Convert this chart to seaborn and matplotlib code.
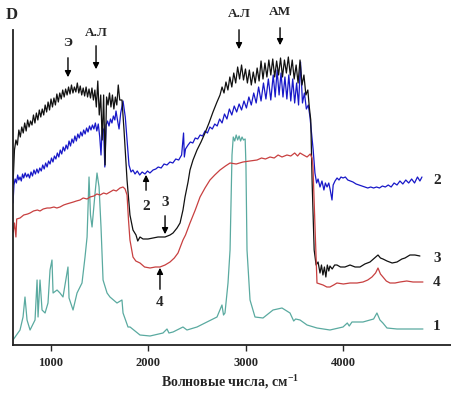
import pandas as pd
import seaborn as sns
import matplotlib.pyplot as plt

sns.set_style("ticks")
plt.rcParams['font.family'] = ['Liberation Serif', 'DejaVu Serif']
plt.rcParams['mathtext.fontset'] = 'custom'
plt.rcParams['mathtext.rm'] = 'Liberation Serif'
plt.rcParams['mathtext.bf'] = 'Liberation Serif:bold'

# spectra: (wavenumber cm-1, D in arbitrary units)
curve1 = [(610, 5), (682, 15), (713, 28), (733, 48), (754, 25), (785, 15), (836, 25), (857, 65),
          (867, 28), (887, 65), (908, 35), (939, 32), (969, 42), (990, 75), (1010, 85), (1021, 52),
          (1062, 55), (1092, 52), (1123, 48), (1174, 78), (1185, 47), (1226, 35), (1267, 52),
          (1318, 62), (1349, 88), (1370, 108), (1390, 168), (1405, 130), (1421, 118), (1452, 152),
          (1472, 172), (1493, 158), (1513, 118), (1534, 65), (1575, 52), (1605, 48), (1677, 42),
          (1728, 45), (1739, 32), (1790, 18), (1811, 18), (1913, 10), (2016, 9), (2149, 12),
          (2190, 16), (2210, 12), (2252, 13), (2354, 18), (2395, 15), (2498, 18), (2600, 23),
          (2703, 28), (2754, 40), (2770, 30), (2785, 32), (2816, 62), (2837, 95), (2857, 190),
          (2870, 208), (2885, 204), (2900, 210), (2915, 205), (2930, 209), (2945, 204), (2960, 208),
          (2975, 205), (2992, 206), (3000, 180), (3011, 95), (3042, 45), (3093, 28), (3175, 27),
          (3278, 35), (3370, 37), (3452, 32), (3490, 24), (3510, 26), (3555, 25), (3627, 20),
          (3729, 17), (3862, 15), (3996, 18), (4040, 22), (4060, 19), (4088, 23), (4201, 23),
          (4273, 25), (4310, 26), (4344, 32), (4375, 25), (4405, 22), (4447, 17), (4550, 16),
          (4714, 16), (4816, 16)]

curve2 = [(610, 142), (620, 160), (632, 166), (645, 162), (658, 170), (670, 165), (682, 168),
          (695, 164), (708, 171), (720, 167), (735, 172), (750, 168), (765, 171), (780, 167),
          (795, 173), (810, 169), (825, 175), (840, 171), (855, 176), (870, 172), (885, 177),
          (900, 174), (915, 180), (930, 176), (945, 182), (960, 178), (975, 184), (990, 181),
          (1005, 187), (1020, 183), (1035, 189), (1050, 186), (1065, 192), (1080, 188), (1095, 195),
          (1110, 191), (1125, 198), (1140, 194), (1155, 200), (1170, 196), (1185, 204), (1200, 199),
          (1215, 206), (1230, 202), (1245, 209), (1260, 204), (1275, 211), (1290, 207), (1305, 213),
          (1320, 209), (1335, 215), (1350, 211), (1365, 217), (1380, 213), (1395, 219), (1410, 215),
          (1425, 220), (1440, 216), (1455, 222), (1470, 214), (1485, 221), (1500, 208), (1513, 190),
          (1525, 218), (1540, 215), (1552, 178), (1565, 220), (1580, 224), (1595, 219), (1610, 226),
          (1625, 222), (1640, 229), (1655, 225), (1667, 234), (1680, 226), (1698, 216), (1715, 232),
          (1739, 244), (1750, 236), (1762, 228), (1780, 205), (1800, 180), (1821, 173), (1840, 175),
          (1862, 171), (1885, 174), (1910, 170), (1935, 173), (1964, 171), (1990, 174), (2015, 172),
          (2047, 175), (2075, 176), (2100, 178), (2130, 177), (2160, 181), (2190, 180), (2220, 183),
          (2250, 182), (2280, 186), (2310, 185), (2340, 190), (2360, 212), (2368, 188), (2380, 196),
          (2406, 200), (2430, 203), (2455, 202), (2480, 207), (2505, 206), (2530, 210), (2555, 209),
          (2580, 214), (2605, 212), (2630, 218), (2655, 216), (2680, 221), (2705, 219), (2730, 226),
          (2755, 222), (2780, 231), (2805, 226), (2830, 236), (2855, 230), (2880, 239), (2905, 233),
          (2930, 241), (2955, 235), (2980, 244), (3005, 237), (3030, 248), (3055, 240), (3080, 252),
          (3105, 242), (3130, 258), (3155, 244), (3180, 262), (3205, 246), (3230, 266), (3255, 245),
          (3280, 270), (3300, 248), (3320, 275), (3340, 250), (3360, 272), (3380, 248), (3400, 268),
          (3420, 246), (3440, 270), (3460, 244), (3480, 266), (3500, 242), (3520, 262), (3540, 240),
          (3560, 283), (3580, 242), (3600, 252), (3620, 236), (3640, 240), (3657, 228), (3675, 210),
          (3690, 195), (3708, 172), (3725, 162), (3740, 166), (3760, 158), (3780, 164), (3800, 155),
          (3815, 162), (3832, 158), (3850, 162), (3865, 155), (3883, 145), (3895, 160), (3914, 164),
          (3935, 167), (3955, 165), (3975, 168), (3996, 167), (4020, 168), (4045, 165), (4070, 164),
          (4098, 163), (4130, 161), (4160, 160), (4190, 159), (4220, 158), (4250, 157), (4280, 158),
          (4310, 157), (4340, 158), (4370, 157), (4400, 159), (4430, 158), (4460, 160), (4490, 158),
          (4520, 162), (4550, 160), (4580, 164), (4610, 161), (4640, 165), (4670, 162), (4700, 166),
          (4730, 162), (4760, 168), (4785, 164), (4806, 168)]

curve3 = [(610, 160), (625, 195), (640, 205), (655, 200), (670, 215), (685, 208), (700, 218),
          (715, 212), (730, 222), (745, 214), (760, 225), (775, 218), (790, 224), (805, 220),
          (820, 230), (835, 222), (850, 232), (865, 225), (880, 235), (895, 228), (910, 236),
          (925, 230), (940, 240), (955, 233), (970, 243), (985, 235), (1000, 246), (1015, 238),
          (1030, 247), (1045, 240), (1060, 251), (1075, 243), (1090, 252), (1105, 246), (1120, 255),
          (1135, 248), (1150, 256), (1165, 250), (1180, 258), (1195, 251), (1210, 260), (1225, 252),
          (1240, 258), (1255, 253), (1270, 262), (1285, 252), (1300, 259), (1315, 250), (1330, 257),
          (1345, 249), (1360, 258), (1375, 248), (1390, 256), (1405, 247), (1420, 257), (1435, 245),
          (1450, 255), (1465, 238), (1480, 264), (1495, 230), (1510, 250), (1525, 205), (1540, 250),
          (1555, 180), (1570, 248), (1585, 240), (1600, 252), (1615, 238), (1630, 250), (1645, 236),
          (1660, 248), (1675, 240), (1690, 260), (1705, 245), (1728, 245), (1749, 215), (1780, 165),
          (1810, 130), (1841, 115), (1872, 110), (1890, 104), (1913, 108), (1944, 106), (1995, 106),
          (2047, 107), (2098, 108), (2170, 108), (2221, 110), (2252, 112), (2293, 117), (2324, 122),
          (2354, 135), (2375, 148), (2406, 163), (2426, 175), (2457, 185), (2498, 195), (2539, 203),
          (2580, 212), (2621, 222), (2662, 233), (2703, 243), (2734, 250), (2755, 258), (2775, 252),
          (2795, 263), (2815, 255), (2835, 268), (2855, 258), (2875, 272), (2895, 262), (2915, 278),
          (2935, 266), (2955, 280), (2975, 265), (2995, 276), (3015, 262), (3035, 275), (3055, 260),
          (3075, 273), (3095, 262), (3115, 277), (3135, 264), (3155, 284), (3175, 266), (3195, 282),
          (3215, 268), (3235, 285), (3255, 270), (3275, 286), (3295, 268), (3315, 284), (3335, 270),
          (3355, 287), (3375, 268), (3395, 285), (3415, 272), (3435, 288), (3455, 270), (3475, 285),
          (3495, 266), (3515, 280), (3535, 262), (3555, 285), (3575, 260), (3595, 270), (3615, 250),
          (3635, 255), (3650, 238), (3665, 225), (3680, 160), (3700, 95), (3720, 80), (3740, 83),
          (3760, 72), (3775, 80), (3790, 70), (3805, 78), (3820, 68), (3835, 80), (3850, 74),
          (3862, 79), (3885, 76), (3910, 80), (3934, 80), (3970, 78), (4016, 78), (4068, 80),
          (4120, 78), (4170, 78), (4220, 81), (4273, 83), (4320, 87), (4355, 90), (4380, 87),
          (4406, 86), (4447, 84), (4500, 82), (4550, 83), (4600, 86), (4632, 87), (4683, 90),
          (4734, 90), (4785, 89)]

curve4 = [(612, 113), (625, 122), (640, 108), (648, 126), (682, 127), (720, 130), (760, 131),
          (785, 132), (820, 134), (860, 135), (887, 134), (920, 136), (960, 137), (990, 137),
          (1030, 138), (1060, 137), (1092, 138), (1130, 140), (1160, 141), (1195, 142), (1230, 143),
          (1260, 144), (1298, 145), (1330, 147), (1370, 146), (1400, 148), (1440, 149), (1470, 151),
          (1503, 150), (1540, 152), (1570, 151), (1605, 153), (1640, 155), (1670, 154), (1708, 157),
          (1739, 158), (1760, 156), (1780, 150), (1795, 125), (1810, 105), (1841, 88), (1870, 84),
          (1913, 82), (1960, 78), (2016, 77), (2070, 78), (2118, 78), (2170, 80), (2221, 83),
          (2265, 87), (2303, 92), (2354, 105), (2380, 110), (2426, 122), (2480, 135), (2529, 148),
          (2580, 157), (2631, 165), (2680, 170), (2734, 175), (2790, 179), (2837, 182), (2900, 181),
          (2970, 183), (3040, 184), (3114, 185), (3160, 187), (3200, 186), (3247, 188), (3290, 187),
          (3330, 190), (3370, 188), (3421, 190), (3460, 189), (3500, 192), (3530, 189), (3555, 192),
          (3590, 190), (3627, 188), (3660, 191), (3678, 187), (3688, 178), (3708, 120), (3729, 62),
          (3760, 61), (3791, 60), (3830, 58), (3862, 58), (3900, 60), (3934, 62), (4000, 61),
          (4068, 62), (4140, 62), (4201, 63), (4250, 65), (4293, 68), (4330, 72), (4355, 77),
          (4380, 71), (4406, 68), (4440, 64), (4478, 62), (4530, 62), (4580, 63), (4650, 64),
          (4714, 63), (4770, 63), (4816, 63)]

curve_labels = ["1", "2", "3", "4"]
colors = ["#5aaaa0", "#1818c8", "#111111", "#c84040"]

df = pd.concat([
    pd.DataFrame(c, columns=["wn", "D"]).assign(curve=lab)
    for c, lab in zip([curve1, curve2, curve3, curve4], curve_labels)
])

fig = plt.figure(figsize=(4.51, 3.95), dpi=100)
ax = fig.add_axes([13/451, 50/395, 438/451, 345/395])

for lab, col in zip(curve_labels, colors):
    sns.lineplot(data=df[df.curve == lab], x="wn", y="D", color=col, lw=0.9,
                 estimator=None, sort=False, ax=ax)

ax.set_xlim(610, 5104)
ax.set_ylim(0, 345)
ax.spines[["top", "right"]].set_visible(False)
ax.spines["left"].set_bounds(0, 315)
for s in ["left", "bottom"]:
    ax.spines[s].set_linewidth(1.3)
    ax.spines[s].set_color("#222222")
ax.set_yticks([])
ax.set_xticks([1000, 2000, 3000, 4000])
ax.set_xticklabels(["1000", "2000", "3000", "4000"], fontsize=9, fontweight="bold")
ax.tick_params(axis="x", direction="out", length=4, width=1, pad=5)
ax.set(xlabel="", ylabel="")

fig.text(230/451, 1 - 382/395, r"Волновые числа, см$^{\mathbf{-1}}$", ha="center", va="center",
         fontsize=10, fontweight="bold")
ax.text(600, 330, "D", ha="center", va="center", fontsize=12, fontweight="bold", clip_on=False)

# band markers above the spectra
arrow = dict(arrowstyle="-|>", color="k", lw=1, mutation_scale=9)
for txt, wn, d_txt, d_tail, d_tip in [("Э", 1174, 302, 290, 265), ("А.Л", 1462, 312, 302, 273),
                                      ("А.Л", 2929, 331, 318, 293), ("АМ", 3350, 333, 320, 297)]:
    ax.text(wn, d_txt, txt, ha="center", va="center", fontsize=9.5, fontweight="bold")
    ax.annotate("", xy=(wn, d_tip), xytext=(wn, d_tail), arrowprops=arrow, annotation_clip=False)

# minimum markers
ax.annotate("", xy=(1975, 173), xytext=(1975, 152), arrowprops=arrow)
ax.text(1975, 138, "2", ha="center", va="center", fontsize=11, fontweight="bold")
ax.annotate("", xy=(2170, 108), xytext=(2170, 132), arrowprops=arrow)
ax.text(2170, 142, "3", ha="center", va="center", fontsize=11, fontweight="bold")
ax.annotate("", xy=(2118, 80), xytext=(2118, 53), arrowprops=arrow)
ax.text(2118, 42, "4", ha="center", va="center", fontsize=11, fontweight="bold")

for lab, d in zip(curve_labels, [18, 165, 87, 62]):
    ax.text(4960, d, lab, ha="center", va="center", fontsize=11, fontweight="bold")

fig.savefig("out.png", dpi=100)
